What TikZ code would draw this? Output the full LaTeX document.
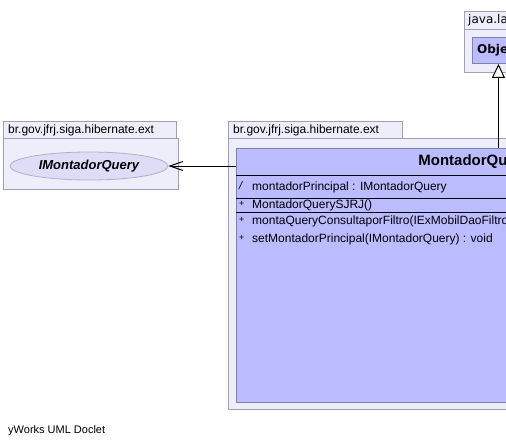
\documentclass[tikz,border=0pt]{standalone}
\usepackage{fontspec}
\setmainfont{Liberation Sans}
\newfontfamily\dejavu{DejaVu Sans}
\usetikzlibrary{arrows.meta,positioning,shapes.geometric}
\definecolor{umlInk}{HTML}{000000}
\definecolor{umlPkgFill}{HTML}{EEEEFA}
\definecolor{umlPkgLine}{HTML}{A0A0B4}
\definecolor{umlClassFill}{HTML}{BBBBFF}
\definecolor{umlClassLine}{HTML}{8080AC}
\definecolor{umlIfaceFill}{HTML}{DDDDF8}
\definecolor{umlIfaceLine}{HTML}{B0B0C8}
\tikzset{
  every picture/.style={text=umlInk},
  uml pkg/.style={draw=umlPkgLine, fill=umlPkgFill, line width=0.9pt},
  uml pkg label/.style={anchor=west, inner sep=0pt, font=\fontsize{12}{14}\selectfont},
  uml class/.style={draw=umlClassLine, fill=umlClassFill, line width=0.9pt,
    rectangle, anchor=north west, inner sep=0pt},
  uml iface/.style={ellipse, draw=umlIfaceLine, fill=umlIfaceFill, line width=0.8pt,
    minimum width=158pt, minimum height=28pt, inner sep=0pt,
    font=\fontsize{13}{15}\selectfont\bfseries\itshape},
  uml member/.style={anchor=base west, inner sep=0pt, font=\fontsize{12}{14}\selectfont},
  uml mark/.style={anchor=base west, inner sep=0pt, font=\fontsize{9}{10}\selectfont},
  uml sep/.style={draw=umlInk, line width=0.9pt},
  uml dep/.style={-{Straight Barb[length=13pt,width=9pt]}, draw=umlInk, line width=1pt},
  uml inherit/.style={-{Triangle[open,length=14pt,width=13pt,fill=white]},
    draw=umlInk, line width=1pt}
}
\begin{document}
\begin{tikzpicture}[x=1pt,y=-1pt]
  \path[use as bounding box, clip] (0,0) rectangle (506,447);
  % packages
  \draw[uml pkg] (3,121) rectangle (176,138);
  \draw[uml pkg] (3,138) rectangle (178,189);
  \node[uml pkg label] (extpkgA) at (8,130) {br.gov.jfrj.siga.hibernate.ext};
  \draw[uml pkg] (228,121) rectangle (402,138);
  \draw[uml pkg] (228,138) rectangle (540,409);
  \node[uml pkg label] (extpkgB) at (233,130) {br.gov.jfrj.siga.hibernate.ext};
  \draw[uml pkg] (464,11) rectangle (540,29);
  \draw[uml pkg] (464,29) rectangle (540,72);
  \node[uml pkg label, font=\dejavu\fontsize{12}{14}\selectfont] (langpkg) at (468,20) {java.lang};
  % classes
  \node[uml class, minimum width=52pt, minimum height=26pt] (obj) at (472,37) {};
  \node[anchor=west, inner sep=0pt, font=\dejavu\fontsize{12}{14}\selectfont\bfseries]
    (objname) at (477,50) {Object};
  \node[uml iface] (imq) at (89,166) {IMontadorQuery};
  \node[uml class, minimum width=514pt, minimum height=254pt] (montador) at (236,148) {};
  \node[font=\fontsize{15}{17}\selectfont\bfseries, inner sep=0pt]
    (montname) at (493,161.5) {MontadorQuerySJRJ};
  \draw[uml sep] (montador.west |- 0,175) -- (montador.east |- 0,175);
  \draw[uml sep] (montador.west |- 0,198) -- (montador.east |- 0,198);
  \draw[uml sep] (montador.west |- 0,212) -- (montador.east |- 0,212);
  % members
  \node[uml mark, font=\fontsize{11}{12}\selectfont\itshape] (attrmark) at (239,189) {/};
  \node[uml member] (attr) at (252,190.5) {montadorPrincipal : IMontadorQuery};
  \node[uml mark] (ctormark) at (239,206) {+};
  \node[uml member] (ctor) at (252,208.5) {MontadorQuerySJRJ()};
  \node[uml mark] (meth1mark) at (239,222) {+};
  \node[uml member] (meth1) at (252,224.5) {montaQueryConsultaporFiltro(IExMobilDaoFiltro)};
  \node[uml mark] (meth2mark) at (239,240) {+};
  \node[uml member] (meth2) at (252,242.5) {setMontadorPrincipal(IMontadorQuery) : void};
  % connectors
  \draw[uml dep] (montador.west |- imq.east) -- (imq.east);
  \draw[uml inherit] (obj.south |- montador.north) -- (obj.south);
  \node[anchor=west, inner sep=0pt, font=\fontsize{11}{13}\selectfont]
    (doclet) at (8,431) {yWorks UML Doclet};
\end{tikzpicture}
\end{document}
